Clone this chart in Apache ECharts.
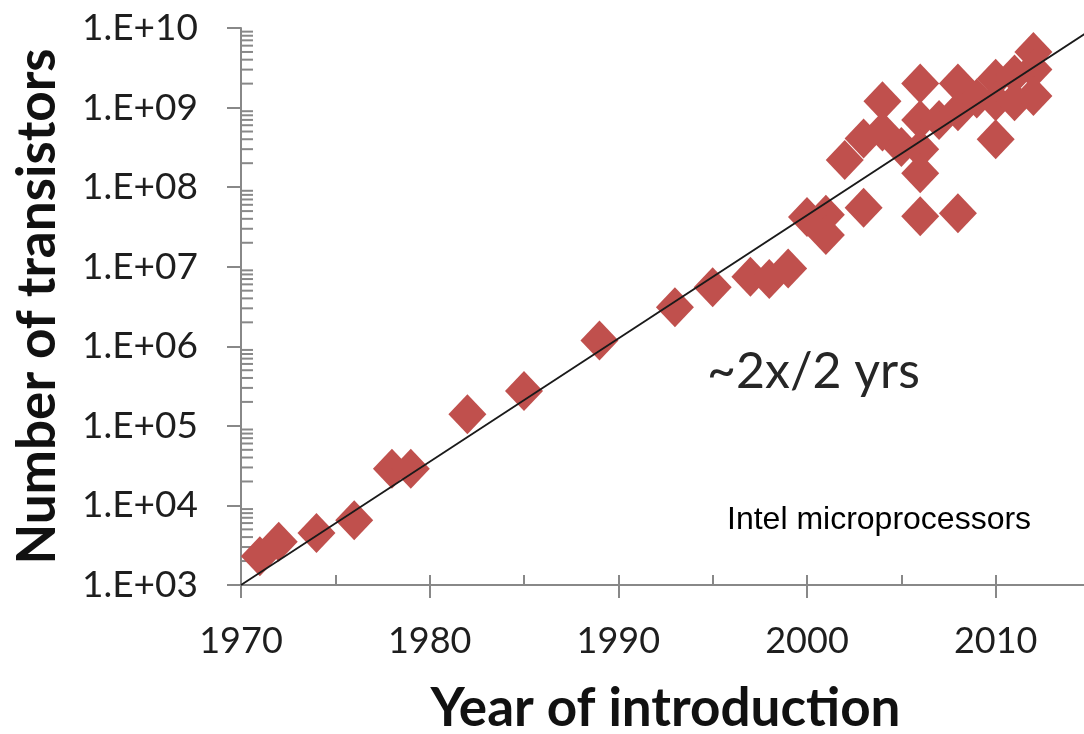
<!DOCTYPE html>
<html>
<head>
<meta charset="utf-8">
<script src="https://cdn.jsdelivr.net/npm/echarts@6/dist/echarts.min.js"></script>
<style>
  html, body { margin: 0; padding: 0; background: #fff; }
  #chart { width: 1084px; height: 734px; }
</style>
</head>
<body>
<div id="chart"></div>
<script>
// Intel microprocessors: year of introduction and transistor count
const years = [
  1971, 1972, 1974, 1976, 1978, 1979, 1982, 1985, 1989, 1993,
  1995, 1997, 1998, 1999, 2000, 2001, 2001, 2002, 2003, 2003,
  2004, 2004, 2005, 2006, 2006, 2006, 2006, 2006, 2007, 2008,
  2008, 2008, 2009, 2010, 2010, 2010, 2011, 2011, 2012, 2012,
  2012
];
const transistors = [
  2300, 3500, 4500, 6500, 29000, 29000, 140000, 275000, 1180000, 3100000,
  5500000, 7500000, 7000000, 9500000, 42000000, 45000000, 25000000, 220000000, 55000000, 410000000,
  1200000000, 500000000, 320000000, 2000000000, 700000000, 300000000, 150000000, 43000000, 700000000, 2000000000,
  900000000, 47000000, 1300000000, 2300000000, 1200000000, 400000000, 2600000000, 1200000000, 5000000000, 3000000000,
  1400000000
];

// Trend line, doubling roughly every two years
const trendYears = [1970, 2015];
const trendCounts = [1000, 9300000000];

// Axis ranges and tick labels
const yearMin = 1970, yearMax = 2015, yearStep = 10;
const countMin = 1e3, countMax = 1e10;
const countLabels = {
  3: '1.E+03', 4: '1.E+04', 5: '1.E+05', 6: '1.E+06', 7: '1.E+07',
  8: '1.E+08', 9: '1.E+09', 10: '1.E+10'
};
const minorMultipliers = [2, 3, 4, 5, 6, 7, 8, 9];
const decadeExponents = [3, 4, 5, 6, 7, 8, 9];

const points = years.map((y, i) => [y, transistors[i]]);
const trend = trendYears.map((y, i) => [y, trendCounts[i]]);
const minorTicks = [];
decadeExponents.forEach(e => minorMultipliers.forEach(m => minorTicks.push([yearMin, m * Math.pow(10, e)])));

const axisGray = '#888888';
const textDark = '#1e1e1e';
const labelFont = 'Lato, "Open Sans", sans-serif';

const chart = echarts.init(document.getElementById('chart'), null, { renderer: 'canvas' });

chart.setOption({
  animation: false,
  backgroundColor: '#ffffff',
  grid: { left: 241, top: 28, bottom: 149, right: -6, containLabel: false, outerBoundsMode: 'none' },
  xAxis: [
    {
      type: 'value', position: 'bottom',
      min: yearMin, max: yearMax, interval: yearStep,
      name: 'Year of introduction', nameLocation: 'middle', nameGap: 97,
      nameTextStyle: { fontFamily: labelFont, fontWeight: 'bold', fontSize: 53, color: '#111' },
      axisLine: { show: true, lineStyle: { color: axisGray, width: 2 } },
      axisTick: { show: true, inside: true, length: 10, lineStyle: { color: axisGray, width: 2 } },
      minorTick: { show: true, splitNumber: 2, length: 10, lineStyle: { color: axisGray, width: 2 } },
      splitLine: { show: false },
      axisLabel: {
        margin: 38, fontFamily: labelFont, fontSize: 36, color: textDark,
        formatter: v => String(v), showMaxLabel: false
      }
    },
    {
      // outward half of the major year ticks
      type: 'value', position: 'bottom',
      min: yearMin, max: yearMax, interval: yearStep,
      axisLine: { show: false },
      axisTick: { show: true, inside: false, length: 13, lineStyle: { color: axisGray, width: 2 } },
      axisLabel: { show: false },
      splitLine: { show: false }
    }
  ],
  yAxis: {
    type: 'log', logBase: 10,
    min: countMin, max: countMax,
    name: 'Number of transistors', nameLocation: 'middle', nameGap: 177,
    nameTextStyle: { fontFamily: labelFont, fontWeight: 'bold', fontSize: 53, color: '#111' },
    axisLine: { show: true, lineStyle: { color: axisGray, width: 2 } },
    axisTick: { show: true, inside: false, length: 14, lineStyle: { color: axisGray, width: 2 } },
    splitLine: { show: false },
    axisLabel: {
      margin: 43, fontFamily: labelFont, fontSize: 37, color: textDark,
      formatter: v => countLabels[Math.round(Math.log10(v))] || ''
    }
  },
  series: [
    {
      // logarithmic minor ticks on the inside of the count axis
      type: 'custom',
      coordinateSystem: 'cartesian2d',
      silent: true,
      clip: false,
      z: 1,
      data: minorTicks,
      renderItem: (params, api) => {
        const p = api.coord([api.value(0), api.value(1)]);
        return {
          type: 'line',
          shape: { x1: p[0], y1: p[1], x2: p[0] + 12, y2: p[1] },
          style: { stroke: axisGray, lineWidth: 2 }
        };
      }
    },
    {
      type: 'scatter',
      symbol: 'diamond',
      symbolSize: [38, 40],
      itemStyle: { color: '#c0504d', opacity: 1 },
      z: 3,
      data: points
    },
    {
      type: 'line',
      data: trend,
      symbol: 'none',
      lineStyle: { color: '#1a1a1a', width: 1.8 },
      z: 4,
      silent: true
    }
  ],
  graphic: [
    {
      type: 'text', left: 707, top: 347, silent: true,
      style: { text: '~2x/2 yrs', fontFamily: labelFont, fontSize: 50, fill: '#262626' }
    },
    {
      type: 'text', left: 727, top: 504, silent: true,
      style: { text: 'Intel microprocessors', fontFamily: '"Liberation Sans", Arial, sans-serif', fontSize: 32, fill: '#000' }
    }
  ]
});
</script>
</body>
</html>
